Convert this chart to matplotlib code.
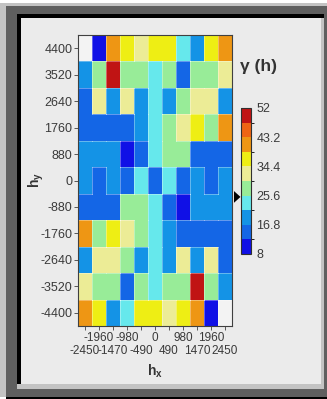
import numpy as np
import matplotlib
matplotlib.use("Agg")
import matplotlib.pyplot as plt
from matplotlib.colors import ListedColormap, BoundaryNorm
from matplotlib.patches import Rectangle, Polygon

plt.rcParams['font.family'] = ['Liberation Sans', 'DejaVu Sans']
plt.rcParams['mathtext.fontset'] = 'custom'
plt.rcParams['mathtext.rm'] = 'Liberation Sans'
plt.rcParams['mathtext.bf'] = 'Liberation Sans:bold'

# lag centres
hx = np.arange(-2450, 2451, 490)
hy = np.arange(-4400, 4401, 880)

# variogram map, rows from top (hy=4400) to bottom (hy=-4400)
nan = np.nan
gamma_rows = [
    [nan, 10.2, 40.6, 36.1, 32.4, 37.0, 36.3, 23.1, 18.7, 35.9, 41.3],
    [19.4, 28.3, 49.1, 27.6, 28.9, 23.8, 27.2, 14.6, 28.1, 27.5, 31.8],
    [15.2, 31.6, 18.4, 32.7, 19.1, 24.2, 18.9, 28.6, 32.3, 31.2, 18.1],
    [14.3, 14.9, 15.6, 14.1, 19.8, 23.2, 27.0, 32.9, 36.4, 28.4, 40.2],
    [18.6, 19.7, 19.2, 10.9, 15.3, 24.6, 28.7, 27.8, 14.4, 15.1, 13.9],
    [17.9, 15.4, 18.2, 14.7, 22.6, 13.6, 22.6, 14.7, 18.2, 15.4, 17.9],
    [13.9, 15.1, 14.4, 27.8, 28.7, 24.6, 15.3, 10.9, 19.2, 19.7, 18.6],
    [40.2, 28.4, 36.4, 32.9, 27.0, 23.2, 19.8, 14.1, 15.6, 14.9, 14.3],
    [18.1, 31.2, 32.3, 28.6, 18.9, 24.2, 19.1, 32.7, 18.4, 31.6, 15.2],
    [31.8, 27.5, 28.1, 14.6, 27.2, 23.8, 28.9, 27.6, 49.1, 28.3, 19.4],
    [41.3, 35.9, 18.7, 23.1, 36.3, 37.0, 32.4, 36.1, 40.6, 10.2, nan],
]
sill = 25.2

levels = np.linspace(8, 52, 11)
cbar_ticks = [8, 16.8, 25.6, 34.4, 43.2, 52]
band_colors = ['#1010e6', '#1466e6', '#1493e6', '#66e8ec', '#98ec98',
               '#ecec96', '#eeee14', '#ee9614', '#ee6414', '#c01414']

W, H = 327, 399
fig = plt.figure(figsize=(W/100, H/100), dpi=100)
fig.patch.set_facecolor('white')

# window frame drawn in pixel coords
bg = fig.add_axes([0, 0, 1, 1], zorder=-10)
bg.set_xlim(0, W)
bg.set_ylim(H, 0)
bg.axis('off')
for (x0, y0, x1, y1, c) in [
        (0, 3, W, 397, '#c3c3c3'),
        (6, 6, W, 397, '#5f5f5f'),
        (6, 397, W, 399, '#000000'),
        (17, 14, 324, 384, '#000000'),
        (21, 18, 321, 384, '#ebebeb'),
        (321, 18, 324, 389, '#c3c3c3'),
        (17, 384, 324, 389, '#c3c3c3')]:
    bg.add_patch(Rectangle((x0, y0), x1 - x0, y1 - y0, facecolor=c,
                           edgecolor='none'))

ax = fig.add_axes([78/W, 1 - 326/H, 154/W, 291/H])
ax.set_facecolor('#f3f3f3')

cmap = ListedColormap(band_colors)
norm = BoundaryNorm(levels, cmap.N)
z = np.ma.masked_invalid(np.array(gamma_rows)[::-1])
xe = np.append(hx - 245, hx[-1] + 245)
ye = np.append(hy - 440, hy[-1] + 440)
mesh = ax.pcolormesh(xe, ye, z, cmap=cmap, norm=norm)

# faint outlines where the colour class changes
band = np.digitize(np.array(gamma_rows)[::-1], levels)
band[np.isnan(np.array(gamma_rows)[::-1])] = -1
for i in range(len(hy)):
    for j in range(len(hx) - 1):
        if band[i, j] != band[i, j + 1]:
            ax.plot([xe[j + 1]] * 2, [ye[i], ye[i + 1]], color='white',
                    alpha=0.35, lw=0.7)
for i in range(len(hy) - 1):
    for j in range(len(hx)):
        if band[i, j] != band[i + 1, j]:
            ax.plot([xe[j], xe[j + 1]], [ye[i + 1]] * 2, color='white',
                    alpha=0.35, lw=0.7)

ax.set_xlim(xe[0], xe[-1])
ax.set_ylim(ye[0], ye[-1])
for s in ax.spines.values():
    s.set_color('#404040')
    s.set_linewidth(0.8)

ax.set_yticks(hy)
ax.set_yticklabels([str(v) for v in hy])
ax.set_xticks(hx[1::2])
ax.set_xticklabels([str(v) for v in hx[1::2]])
ax.set_xticks(hx[0::2], minor=True)
ax.set_xticklabels([str(v) for v in hx[0::2]], minor=True)
ax.tick_params(axis='both', which='both', length=3, width=0.6,
               color='#404040', labelsize=9, labelcolor='#3a3a3a')
ax.tick_params(axis='x', which='both', labelsize=8.5)
ax.tick_params(axis='y', pad=1)
ax.tick_params(axis='x', which='major', pad=1.5)
ax.tick_params(axis='x', which='minor', pad=10.5)

ax.set_xlabel(r'$\mathbf{h_x}$', fontsize=10, color='#333333')
ax.set_ylabel(r'$\mathbf{h_y}$', fontsize=10, color='#333333')
ax.xaxis.set_label_coords(0.5, -0.125)
ax.yaxis.set_label_coords(-0.21, 0.5)

cax = fig.add_axes([241/W, 1 - 254/H, 10/W, 146/H])
cbar = fig.colorbar(mesh, cax=cax, ticks=cbar_ticks)
cbar.ax.set_yticklabels([f'{t:g}' for t in cbar_ticks])
cbar.ax.tick_params(length=0, pad=4, labelsize=9, labelcolor='#3a3a3a')
cbar.outline.set_edgecolor('#303030')
cbar.outline.set_linewidth(0.8)

# sill marker next to the colour bar
yf = (sill - levels[0]) / (levels[-1] - levels[0])
cax.add_patch(Polygon([(-0.7, yf - 0.04), (-0.7, yf + 0.04), (-0.05, yf)],
                      closed=True, facecolor='black', edgecolor='none',
                      transform=cax.transAxes, clip_on=False))

fig.text(240/W, 1 - 66/H, 'γ (h)', fontsize=12.5, fontweight='bold',
         color='#333333', ha='left', va='center')

fig.savefig('out.png', dpi=100)
